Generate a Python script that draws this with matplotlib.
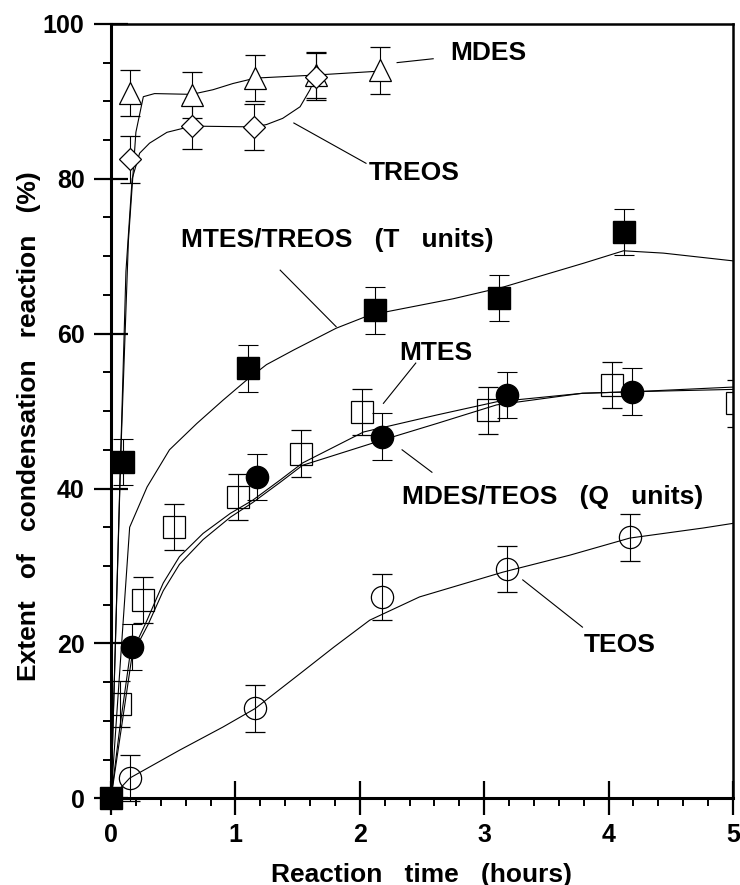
import numpy as np
import matplotlib.pyplot as plt
from matplotlib.ticker import MultipleLocator

# measured points (hours, %)
t_mdes = [0.15, 0.65, 1.16, 1.65, 2.16]
y_mdes = [91.1, 90.8, 93.0, 93.4, 94.0]
t_treos = [0.15, 0.65, 1.15, 1.65]
y_treos = [82.5, 86.8, 86.7, 93.2]
t_tunits = [0.0, 0.10, 1.10, 2.12, 3.12, 4.12]
y_tunits = [0.0, 43.4, 55.5, 63.0, 64.6, 73.1]
t_mtes = [0.07, 0.26, 0.51, 1.02, 1.53, 2.02, 3.03, 4.03, 5.03]
y_mtes = [12.2, 25.6, 35.0, 38.9, 44.5, 49.9, 50.1, 53.4, 51.0]
t_qunits = [0.17, 1.17, 2.18, 3.18, 4.19]
y_qunits = [19.5, 41.5, 46.7, 52.1, 52.5]
t_teos = [0.15, 1.16, 2.18, 3.18, 4.17]
y_teos = [2.6, 11.6, 26.0, 29.6, 33.7]
err = 3.0

# fitted curves
cx_mdes = [0, 0.08, 0.14, 0.2, 0.26, 0.35, 0.65, 0.82, 0.98, 1.16, 1.65, 2.16]
cy_mdes = [0, 45, 72, 86, 90.6, 91.0, 90.9, 91.5, 92.3, 93.0, 93.4, 93.9]
cx_treos = [0, 0.07, 0.12, 0.17, 0.23, 0.31, 0.45, 0.65, 1.15, 1.25, 1.38, 1.52, 1.6, 1.65]
cy_treos = [0, 40, 68, 80, 83.3, 84.6, 86.0, 86.8, 86.7, 87.0, 87.8, 89.3, 91.5, 93.4]
cx_tunits = [0, 0.15, 0.29, 0.47, 0.69, 0.9, 1.09, 1.25, 1.47, 1.81, 2.08, 2.75, 3.15, 3.8, 4.12, 4.44, 5.0]
cy_tunits = [0, 35.0, 40.2, 45.0, 48.4, 51.4, 54.0, 56.0, 57.9, 60.7, 62.4, 64.5, 66.0, 69.1, 70.7, 70.4, 69.4]
cx_mtes = [0, 0.07, 0.15, 0.29, 0.42, 0.55, 0.74, 0.96, 1.14, 1.36, 1.54, 2.03, 2.62, 3.10, 3.79, 4.2, 5.0]
cy_mtes = [0, 9.0, 18.2, 23.0, 27.8, 31.2, 34.2, 36.8, 38.5, 41.1, 43.3, 47.3, 49.5, 51.2, 52.3, 52.5, 52.8]
cx_qunits = [0, 0.17, 0.3, 0.42, 0.55, 0.74, 0.96, 1.14, 1.36, 1.54, 2.19, 2.62, 3.10, 3.79, 4.2, 5.0]
cy_qunits = [0, 18.5, 22.5, 26.8, 30.2, 33.4, 36.3, 38.2, 40.8, 43.0, 46.3, 48.4, 50.8, 52.3, 52.5, 53.1]
cx_teos = [0, 0.15, 0.55, 0.9, 1.16, 1.52, 1.79, 2.08, 2.48, 3.15, 3.69, 4.17, 4.76, 5.0]
cy_teos = [0, 2.6, 6.2, 9.2, 11.6, 16.1, 19.5, 23.0, 26.0, 29.2, 31.4, 33.6, 34.9, 35.5]

# label text, position, leader line
labels = ['MDES', 'TREOS', 'MTES/TREOS   (T   units)', 'MTES',
          'MDES/TEOS   (Q   units)', 'TEOS']
label_xy = [(3.03, 96.2), (2.44, 80.7), (1.82, 72.1), (2.61, 57.5),
            (3.55, 38.9), (4.09, 19.8)]
leaders = [((2.30, 95.0), (2.59, 95.5)), ((1.47, 87.2), (2.05, 82.0)),
           ((1.36, 68.2), (1.81, 60.9)), ((2.45, 56.2), (2.19, 51.0)),
           ((2.34, 45.0), (2.58, 42.1)), ((3.31, 28.2), (3.79, 22.1))]

fnt = 'Liberation Sans'

fig = plt.figure(figsize=(7.4, 8.85), dpi=100)
ax = fig.add_axes([0.15, 0.098, 0.8405, 0.875])

lw = 0.8
for cx, cy in [(cx_mdes, cy_mdes), (cx_treos, cy_treos), (cx_tunits, cy_tunits),
               (cx_mtes, cy_mtes), (cx_qunits, cy_qunits), (cx_teos, cy_teos)]:
    ax.plot(cx, cy, 'k-', lw=lw, zorder=2)

ebkw = dict(ecolor='k', elinewidth=0.8, capsize=7, capthick=0.8, ls='none', zorder=3)
ax.errorbar(t_mdes, y_mdes, yerr=err, marker='^', ms=16, mfc='white', mec='k', mew=0.9, clip_on=False, **ebkw)
ax.errorbar(t_treos, y_treos, yerr=err, marker='D', ms=11, mfc='white', mec='k', mew=0.9, clip_on=False, **ebkw)
ax.errorbar(t_mtes, y_mtes, yerr=err, marker='s', ms=16, mfc='none', mec='k', mew=0.9, clip_on=True, **ebkw)
ax.errorbar(t_teos, y_teos, yerr=err, marker='o', ms=16, mfc='none', mec='k', mew=0.9, clip_on=False, **ebkw)
ax.errorbar(t_qunits, y_qunits, yerr=err, marker='o', ms=16, mfc='k', mec='k', clip_on=False, **ebkw)
ax.errorbar(t_tunits[1:], y_tunits[1:], yerr=err, marker='s', ms=16, mfc='k', mec='k', clip_on=False, **ebkw)
ax.plot(t_tunits[:1], y_tunits[:1], 's', ms=16, color='k', clip_on=False, zorder=4)

for txt, (x, y), ((x0, y0), (x1, y1)) in zip(labels, label_xy, leaders):
    ax.text(x, y, txt, ha='center', va='center', fontsize=19,
            fontweight='bold', family=fnt)
    ax.plot([x0, x1], [y0, y1], 'k-', lw=0.8)

ax.set_xlim(0, 5)
ax.set_ylim(0, 100)
ax.xaxis.set_major_locator(MultipleLocator(1))
ax.xaxis.set_minor_locator(MultipleLocator(0.2))
ax.yaxis.set_major_locator(MultipleLocator(20))
ax.yaxis.set_minor_locator(MultipleLocator(5))
ax.tick_params(which='major', direction='inout', length=24, width=1.6,
               labelsize=18)
ax.tick_params(which='minor', direction='out', length=6, width=1.4)
ax.tick_params(axis='x', which='major', pad=6)
ax.tick_params(axis='y', which='major', pad=7)
for lab in ax.get_xticklabels() + ax.get_yticklabels():
    lab.set_family(fnt)
    lab.set_fontweight('bold')
for s in ax.spines.values():
    s.set_linewidth(2.2)
ax.spines['right'].set_linewidth(1.8)
ax.spines['top'].set_linewidth(1.8)

ax.set_xlabel('Reaction   time   (hours)', fontsize=19, fontweight='bold',
              family=fnt, labelpad=11)
ax.set_ylabel('Extent   of   condensation   reaction   (%)', fontsize=19,
              fontweight='bold', family=fnt)
ax.yaxis.set_label_coords(-0.1125, 0.48)

plt.savefig('out.png', dpi=100)
